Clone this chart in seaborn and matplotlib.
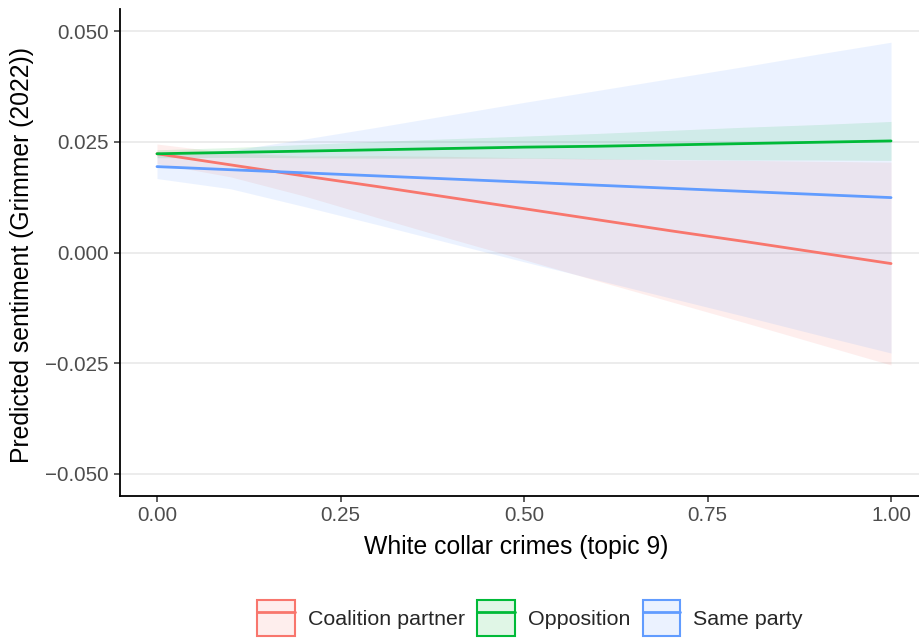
import numpy as np
import pandas as pd
import matplotlib
matplotlib.use("Agg")
import matplotlib.pyplot as plt
import seaborn as sns
from matplotlib.patches import Patch
from matplotlib.lines import Line2D
from matplotlib.ticker import FuncFormatter

# ---- data ----
x_vals = [0.0, 0.1, 0.2, 0.3, 0.4, 0.5, 0.6, 0.7, 0.8, 0.9, 1.0]
groups = ["Coalition partner", "Opposition", "Same party"]
colors = ["#F8766D", "#00BA38", "#619CFF"]

coal_fit = [0.0223, 0.0198, 0.0173, 0.0149, 0.0124, 0.0099, 0.0074, 0.0049, 0.0025, 0.0000, -0.0025]
coal_lo = [0.0201, 0.0171, 0.0128, 0.0079, 0.0031, -0.0016, -0.0064, -0.0111, -0.0158, -0.0206, -0.0254]
coal_hi = [0.0245, 0.0225, 0.0218, 0.0219, 0.0217, 0.0214, 0.0212, 0.0209, 0.0208, 0.0206, 0.0204]

opp_fit = [0.0223, 0.0226, 0.0229, 0.0232, 0.0235, 0.0238, 0.0240, 0.0243, 0.0246, 0.0249, 0.0252]
opp_lo = [0.0214, 0.0215, 0.0214, 0.0213, 0.0213, 0.0213, 0.0211, 0.0210, 0.0209, 0.0209, 0.0208]
opp_hi = [0.0232, 0.0237, 0.0244, 0.0251, 0.0257, 0.0263, 0.0269, 0.0276, 0.0283, 0.0289, 0.0296]

same_fit = [0.0194, 0.0187, 0.0180, 0.0173, 0.0166, 0.0159, 0.0152, 0.0145, 0.0138, 0.0131, 0.0124]
same_lo = [0.0167, 0.0144, 0.0104, 0.0063, 0.0021, -0.0021, -0.0062, -0.0103, -0.0144, -0.0186, -0.0227]
same_hi = [0.0221, 0.0230, 0.0256, 0.0283, 0.0311, 0.0339, 0.0366, 0.0393, 0.0420, 0.0448, 0.0475]

x_ticks = [0.0, 0.25, 0.5, 0.75, 1.0]
y_ticks = [-0.05, -0.025, 0.0, 0.025, 0.05]

fits = [coal_fit, opp_fit, same_fit]
los = [coal_lo, opp_lo, same_lo]
his = [coal_hi, opp_hi, same_hi]

rows = []
for g, f, lo, hi in zip(groups, fits, los, his):
    for xv, fv, l, h in zip(x_vals, f, lo, hi):
        rows.append({"x": xv, "fit": fv, "lo": l, "hi": h, "group": g})
df = pd.DataFrame(rows)

# ---- plot ----
sns.set_theme(style="white")
plt.rcParams["font.family"] = ["Liberation Sans", "DejaVu Sans"]

W, H = 919, 639
fig = plt.figure(figsize=(W / 100, H / 100), dpi=100)
ax_left, ax_right, ax_top, ax_bot = 120, 919, 9, 496
ax = fig.add_axes([ax_left / W, (H - ax_bot) / H, (ax_right - ax_left) / W, (ax_bot - ax_top) / H])

for yt in y_ticks:
    ax.axhline(yt, color="#EBEBEB", lw=1.3, zorder=0)

palette = dict(zip(groups, colors))
for g, c in zip(groups, colors):
    d = df[df.group == g]
    ax.fill_between(d["x"], d["lo"], d["hi"], color=c, alpha=0.12, lw=0, zorder=1)

sns.lineplot(data=df, x="x", y="fit", hue="group", palette=palette,
             hue_order=groups, lw=2, ax=ax, legend=False, zorder=3)

ax.set_xlim(-0.0504, 1.0381)
ax.set_ylim(-0.055, 0.055)
ax.set_xticks(x_ticks)
ax.set_yticks(y_ticks)
ax.xaxis.set_major_formatter(FuncFormatter(lambda v, p: f"{v:.2f}"))
ax.yaxis.set_major_formatter(FuncFormatter(lambda v, p: f"{v:.3f}".replace("-", "\u2212")))
ax.tick_params(axis="both", which="major", length=4.3, width=1.1, color="#333333",
               labelsize=14.8, labelcolor="#4D4D4D", bottom=True, left=True)
ax.tick_params(axis="x", pad=3)
ax.tick_params(axis="y", pad=4)

for s in ["top", "right"]:
    ax.spines[s].set_visible(False)
for s in ["left", "bottom"]:
    ax.spines[s].set_color("black")
    ax.spines[s].set_linewidth(1.3)

ax.set_xlabel("White collar crimes (topic 9)", fontsize=17.8, color="black")
ax.set_ylabel("Predicted sentiment (Grimmer (2022))", fontsize=17.8, color="black")
axw, axh = ax_right - ax_left, ax_bot - ax_top
ax.xaxis.set_label_coords((516 - ax_left) / axw, -(535 - ax_bot) / axh)
ax.yaxis.set_label_coords(-(ax_left - 34) / axw, (ax_bot - 255) / axh)

handles = []
for c in colors:
    p = Patch(facecolor=matplotlib.colors.to_rgba(c, 0.12), edgecolor=c, lw=1.5)
    l = Line2D([], [], color=c, lw=2)
    handles.append((p, l))
fig.legend(handles, groups, loc="center", bbox_to_anchor=(530 / W, 1 - 618 / H),
           ncol=3, frameon=False, fontsize=15.4, handlelength=1.75, handleheight=2.2,
           columnspacing=0.6, handletextpad=0.6)

fig.savefig("out.png", dpi=100)
